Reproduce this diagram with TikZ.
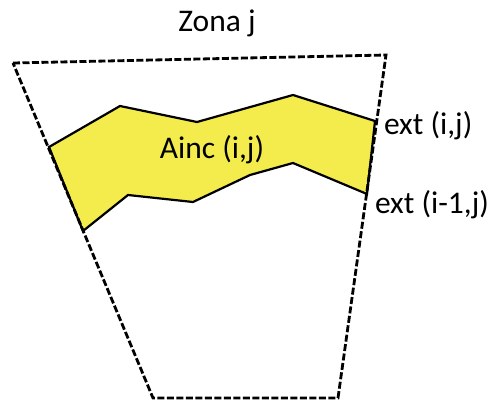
\documentclass[tikz,border=0pt]{standalone}
\usepackage{fontspec}
\setmainfont{Carlito}
\definecolor{bandyellow}{RGB}{244,236,76}
\begin{document}
\begin{tikzpicture}[x=1pt,y=-1pt,every node/.style={font=\fontsize{31.5}{36}\selectfont,inner sep=0pt,outer sep=0pt}]
  \useasboundingbox (0,0) rectangle (491,400);
  \coordinate (TL) at (13,63);
  \coordinate (TR) at (386,55);
  \coordinate (BR) at (338,398);
  \coordinate (BL) at (153,398);
  \fill[bandyellow,draw=black,line width=2.2pt,line join=miter] (49,147)--(120,106)--(197,122)--(293,95)--(375,121)
    --(367,194)--(293,163)--(250,175)--(193,202)--(128,195)--(83,231)--cycle;
  \draw[line width=2.8pt,dash pattern=on 7pt off 2.5pt] (TL)--(TR)--(BR)--(BL)--cycle;
  \node[anchor=base] (zona) at (217,31) {Zona j};
  \node[anchor=base] (ainc) at (212,158) {Ainc (i,j)};
  \node[anchor=base west] (exti) at (384,134) {ext (i,j)};
  \node[anchor=base west] (extim) at (375,213) {ext (i-1,j)};
\end{tikzpicture}
\end{document}
